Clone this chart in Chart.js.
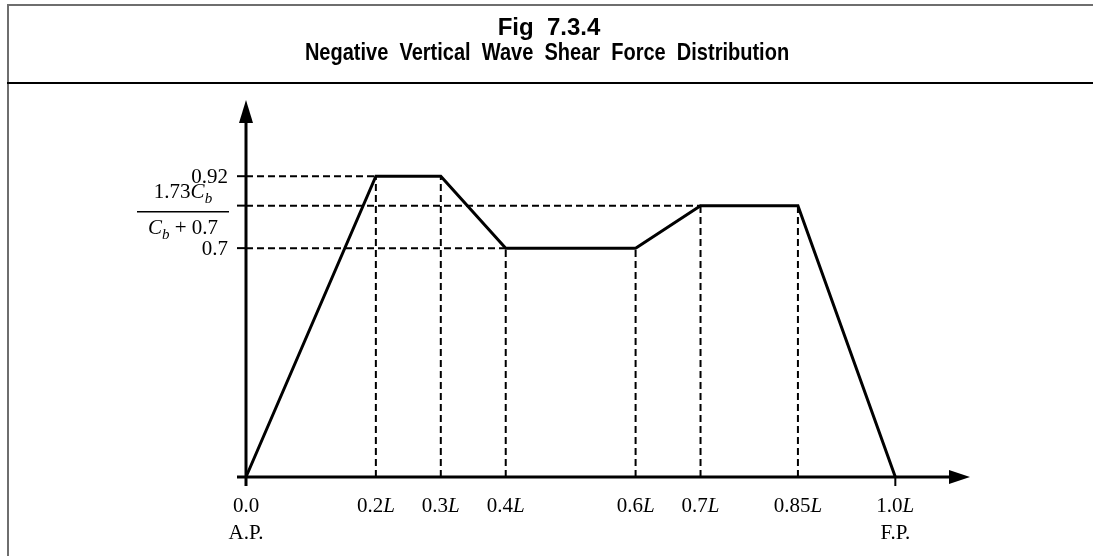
<!DOCTYPE html>
<html>
<head>
<meta charset="utf-8">
<script src="https://cdn.jsdelivr.net/npm/chart.js@4/dist/chart.umd.min.js"></script>
<style>
  html, body { margin: 0; padding: 0; background: #fff; }
  #wrap { width: 1093px; height: 556px; }
</style>
</head>
<body>
<div id="wrap"><canvas id="chart" width="1093" height="556"></canvas></div>
<script>
// Figure caption
const titleLines = ['Fig  7.3.4', 'Negative  Vertical  Wave  Shear  Force  Distribution'];

// Shear force distribution along the ship length (fraction of L)
const positions   = [0, 0.2, 0.3, 0.4, 0.6, 0.7, 0.85, 1.0];
const shearValues = [0, 0.92, 0.92, 0.7, 0.7, 0.83, 0.83, 0];

// Tick labels along the length axis
const xTickNumbers   = ['0.0', '0.2', '0.3', '0.4', '0.6', '0.7', '0.85', '1.0'];
const xTickSuffix    = ['', 'L', 'L', 'L', 'L', 'L', 'L', 'L'];
const xTickSubLabels = ['A.P.', '', '', '', '', '', '', 'F.P.'];

// Marked levels on the vertical axis (0.83 is the 1.73Cb/(Cb+0.7) level)
const yLevels      = [0.92, 0.83, 0.7];
const yLevelLabels = ['0.92', 'fraction', '0.7'];

// Axis extents (arrow tips)
const xMax = 1.115;
const yMax = 1.15;

const SERIF = "'Liberation Serif', 'Times New Roman', serif";
const SANS = "'Liberation Sans', Arial, sans-serif";

// Data line
const mainSeries = {
  label: 'shear',
  data: positions.map((x, i) => ({ x: x, y: shearValues[i] })),
  borderColor: '#000',
  borderWidth: 3,
  borderJoinStyle: 'miter',
  borderCapStyle: 'butt',
  pointRadius: 0,
  tension: 0,
  clip: false,
  order: 0
};

// Dashed guides: vertical drops from each breakpoint, horizontal runs to each level
const guideStyle = {
  borderColor: '#000',
  borderWidth: 2,
  borderDash: [7, 4],
  pointRadius: 0,
  tension: 0,
  clip: false,
  order: 1
};
const guideSets = [];
for (let i = 1; i < positions.length - 1; i++) {
  guideSets.push(Object.assign({ label: 'v' + i, data: [
    { x: positions[i], y: 0 }, { x: positions[i], y: shearValues[i] }
  ] }, guideStyle));
}
yLevels.forEach((lvl, k) => {
  const i = shearValues.indexOf(lvl);
  guideSets.push(Object.assign({ label: 'h' + k, data: [
    { x: 0, y: lvl }, { x: positions[i], y: lvl }
  ] }, guideStyle));
});

// Draw a run of text pieces (normal / italic / subscript) centred at cx
function drawRich(ctx, parts, cx, baseline, size) {
  const fontFor = p => {
    if (p.sub) return 'italic ' + Math.round(size * 0.72) + 'px ' + SERIF;
    return (p.italic ? 'italic ' : '') + size + 'px ' + SERIF;
  };
  let total = 0;
  parts.forEach(p => { ctx.font = fontFor(p); total += ctx.measureText(p.t).width; });
  let x = cx - total / 2;
  ctx.textAlign = 'left';
  ctx.textBaseline = 'alphabetic';
  parts.forEach(p => {
    ctx.font = fontFor(p);
    ctx.fillText(p.t, x, baseline + (p.sub ? 5 : 0));
    x += ctx.measureText(p.t).width;
  });
  return total;
}

const figurePlugin = {
  id: 'figure',
  beforeDraw(chart) {
    const ctx = chart.ctx;
    ctx.save();
    ctx.fillStyle = '#fff';
    ctx.fillRect(0, 0, chart.width, chart.height);
    // frame
    ctx.strokeStyle = '#6e6e6e';
    ctx.lineWidth = 2;
    ctx.beginPath();
    ctx.moveTo(8, chart.height);
    ctx.lineTo(8, 5);
    ctx.lineTo(chart.width, 5);
    ctx.stroke();
    ctx.strokeStyle = '#000';
    ctx.beginPath();
    ctx.moveTo(7, 83);
    ctx.lineTo(chart.width, 83);
    ctx.stroke();
    // caption
    ctx.fillStyle = '#000';
    ctx.textAlign = 'center';
    ctx.textBaseline = 'alphabetic';
    ctx.font = 'bold 24px ' + SANS;
    ctx.fillText(titleLines[0], 549, 35);
    ctx.save();
    ctx.translate(547, 60);
    ctx.scale(0.834, 1);
    ctx.fillText(titleLines[1], 0, 0);
    ctx.restore();
    ctx.restore();
  },
  beforeDatasetsDraw(chart) {
    const ctx = chart.ctx;
    const xs = chart.scales.x, ys = chart.scales.y;
    const x0 = xs.getPixelForValue(0), y0 = ys.getPixelForValue(0);
    const xTip = xs.getPixelForValue(xMax), yTip = ys.getPixelForValue(yMax);
    ctx.save();
    ctx.strokeStyle = '#000';
    ctx.fillStyle = '#000';
    ctx.lineCap = 'butt';
    // vertical axis
    ctx.lineWidth = 3;
    ctx.beginPath();
    ctx.moveTo(x0, y0 + 9);
    ctx.lineTo(x0, yTip + 20);
    ctx.stroke();
    ctx.beginPath();
    ctx.moveTo(x0, yTip - 1);
    ctx.lineTo(x0 - 7, yTip + 22);
    ctx.lineTo(x0 + 7, yTip + 22);
    ctx.closePath();
    ctx.fill();
    // horizontal axis
    ctx.beginPath();
    ctx.moveTo(x0 - 9, y0);
    ctx.lineTo(xTip - 18, y0);
    ctx.stroke();
    ctx.beginPath();
    ctx.moveTo(xTip, y0);
    ctx.lineTo(xTip - 21, y0 - 7);
    ctx.lineTo(xTip - 21, y0 + 7);
    ctx.closePath();
    ctx.fill();
    // ticks
    ctx.lineWidth = 2;
    yLevels.forEach(lvl => {
      const py = ys.getPixelForValue(lvl);
      ctx.beginPath();
      ctx.moveTo(x0 - 9, py);
      ctx.lineTo(x0, py);
      ctx.stroke();
    });
    const pEnd = xs.getPixelForValue(positions[positions.length - 1]);
    ctx.beginPath();
    ctx.moveTo(pEnd, y0);
    ctx.lineTo(pEnd, y0 + 9);
    ctx.stroke();
    ctx.restore();
  },
  afterDraw(chart) {
    const ctx = chart.ctx;
    const xs = chart.scales.x, ys = chart.scales.y;
    ctx.save();
    ctx.fillStyle = '#000';
    const size = 21;
    // length-axis labels
    positions.forEach((p, i) => {
      const px = xs.getPixelForValue(p);
      drawRich(ctx, [{ t: xTickNumbers[i] }, { t: xTickSuffix[i], italic: true }], px, 512, size);
      if (xTickSubLabels[i]) drawRich(ctx, [{ t: xTickSubLabels[i] }], px, 539, size);
    });
    // level labels
    const rightEdge = 228;
    yLevels.forEach((lvl, k) => {
      const py = ys.getPixelForValue(lvl);
      if (yLevelLabels[k] === 'fraction') {
        const cx = 183;
        drawRich(ctx, [{ t: '1.73' }, { t: 'C', italic: true }, { t: 'b', sub: true }], cx, py - 8, size);
        drawRich(ctx, [{ t: 'C', italic: true }, { t: 'b', sub: true }, { t: ' + 0.7' }], cx, py + 28, size);
        ctx.fillRect(137, Math.round(py + 5), 92, 1.5);
      } else {
        ctx.font = size + 'px ' + SERIF;
        ctx.textAlign = 'right';
        ctx.textBaseline = 'alphabetic';
        ctx.fillText(yLevelLabels[k], rightEdge, py + 7);
      }
    });
    ctx.restore();
  }
};

new Chart(document.getElementById('chart'), {
  type: 'line',
  data: { datasets: [mainSeries].concat(guideSets) },
  options: {
    responsive: false,
    animation: false,
    events: [],
    layout: { padding: { left: 246, right: 123, top: 101, bottom: 79 } },
    plugins: {
      legend: { display: false },
      title: { display: false },
      tooltip: { enabled: false }
    },
    scales: {
      x: { type: 'linear', min: 0, max: xMax, display: false },
      y: { type: 'linear', min: 0, max: yMax, display: false }
    }
  },
  plugins: [figurePlugin]
});
</script>
</body>
</html>
